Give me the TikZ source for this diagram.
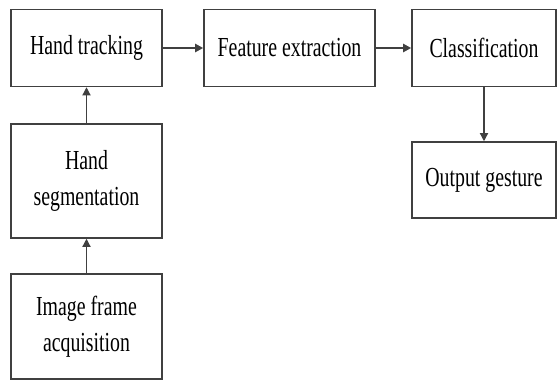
\documentclass[tikz,border=0pt]{standalone}
\usepackage{fontspec}
\setmainfont{Liberation Serif}[FakeStretch=0.72]
\usetikzlibrary{arrows.meta}

\begin{document}
\begin{tikzpicture}[x=0.03cm, y=-0.03cm, every node/.style={font=\fontsize{23.5}{31}\selectfont}, blk/.style={draw=black!75, line width=1.3pt, fill=white, align=center, inner sep=0pt, minimum width=4.53cm, minimum height=2.31cm}, flow/.style={-{Triangle[length=7pt,width=7pt]}, draw=black!75}]
	\useasboundingbox (0,0) rectangle (557,389);
	\node[blk] (track) at (86.5,48) {Hand tracking};
	\node[blk, minimum width=5.13cm] (feat) at (289.5,48) {Feature extraction};
	\node[blk, minimum width=4.32cm] (cls) at (484,48) {Classification};
	\node[blk, minimum width=4.32cm, minimum height=2.28cm] (out) at (484,180) {Output gesture};
	\node[blk, minimum height=3.42cm] (seg) at (86.5,181) {Hand\\segmentation};
	\node[blk, minimum height=3.15cm] (acq) at (86.5,326.5) {Image frame\\acquisition};
	\foreach \a/\b in {track/feat, feat/cls} {\draw[flow, line width=2pt] (\a) -- (\b);}
	\foreach \a/\b in {seg/track, acq/seg, cls/out} {\draw[flow, line width=1.1pt] (\a) -- (\b);}
\end{tikzpicture}
\end{document}
